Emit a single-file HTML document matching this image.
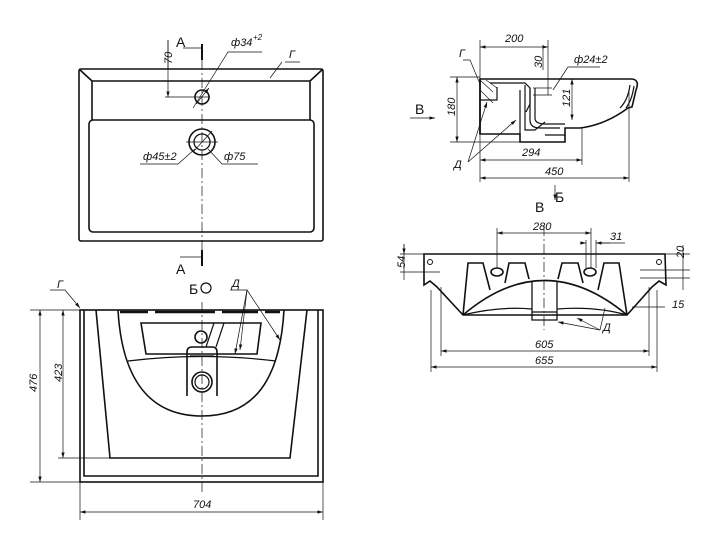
<!DOCTYPE html>
<html><head><meta charset="utf-8"><style>
html,body{margin:0;padding:0;background:#fff;width:720px;height:543px;overflow:hidden}
svg{display:block}
text{font-family:"Liberation Sans",sans-serif;font-style:italic;font-size:11px;fill:#111}
.u{font-style:normal;font-size:14px}
</style></head><body>
<svg width="720" height="543" viewBox="0 0 720 543" xmlns="http://www.w3.org/2000/svg">
<defs>
<marker id="a" viewBox="0 0 10 6" refX="10" refY="3" markerWidth="8" markerHeight="5" orient="auto-start-reverse"><path d="M0,0L10,3L0,6z" fill="#111"/></marker>
</defs>
<g fill="none" stroke="#111" stroke-width="1.6">
<!-- TOP VIEW -->
<rect x="79" y="69" width="244" height="172" rx="2"/>
<path d="M92,81H310M79,69L92,81M323,69L310,81M92,81V120M310,81V120"/>
<rect x="89" y="120" width="225" height="112" rx="4"/>
<circle cx="202" cy="97" r="7"/>
<circle cx="202" cy="142" r="13"/>
<circle cx="202" cy="142" r="8" stroke-width="1.3"/>
<path d="M202,44V60M202,250V266" stroke-width="2"/>
</g>
<g fill="none" stroke="#111" stroke-width="0.7">
<path d="M202,60V250" stroke-dasharray="10,3,2,3"/>
<path d="M165,97H210M186,142H218M183,48H202M180,257H202" />
<path d="M168,40V97" marker-end="url(#a)"/>
<path d="M168,69V40"/>
<path d="M193,108L228,52H262M195,149L178,164H140M208,149L222,164H258M282,62L270,78M285,62H300" />
<path d="M196,104L209,88" marker-end="url(#a)"/>
<path d="M212,131L194,151"/>
</g>
<text x="176" y="47" class="u">А</text>
<text x="231" y="46">ф34</text><text x="253" y="40" style="font-size:8px">+2</text>
<text x="289" y="58">Г</text>
<text x="160" y="64" transform="rotate(-90 166 58)">70</text>
<text x="143" y="160">ф45±2</text>
<text x="224" y="160">ф75</text>
<text x="176" y="274" class="u">А</text>

<!-- BOTTOM VIEW -->
<g fill="none" stroke="#111" stroke-width="1.6">
<rect x="80" y="310" width="243" height="172"/>
<path d="M84,310V476H318V310"/>
<path d="M96,310L110,458H290L307,310"/>
<path d="M118,310C122,380 150,416 202,416C254,416 280,380 284,310"/>
<path d="M141,323H261L257,354H146Z"/>
<path d="M128,361Q202,352 276,361" stroke-width="1.2"/>
<circle cx="201" cy="337" r="6"/>
<path d="M187,396V352Q187,347 192,347H212Q217,347 217,352V396" />
<circle cx="202" cy="382" r="10"/>
<circle cx="202" cy="382" r="7" stroke-width="1.2"/>
<path d="M214,323L206,347M224,323L216,347M190,356H214" stroke-width="1.2"/>
<path d="M120,312H148M155,312H215M222,312H258M265,312H280" stroke-width="2.4"/>
</g>
<g fill="none" stroke="#111" stroke-width="0.7">
<path d="M202,302V495" stroke-dasharray="10,3,2,3"/>
<path d="M30,310H80M30,482H80M58,458H110M80,482V520M323,482V520"/>
<path d="M40,310V482" marker-start="url(#a)" marker-end="url(#a)"/>
<path d="M63,310V458" marker-start="url(#a)" marker-end="url(#a)"/>
<path d="M80,512H323" marker-start="url(#a)" marker-end="url(#a)"/>
<path d="M50,290H65L80,308" marker-end="url(#a)"/>
<path d="M230,290H247L240,350" marker-end="url(#a)"/>
<path d="M247,290L235,354" marker-end="url(#a)"/>
<path d="M247,290L280,340" marker-end="url(#a)"/>
</g>
<text x="57" y="288">Г</text>
<text x="232" y="287">Д</text>
<text x="189" y="294" class="u">Б</text>
<circle cx="206" cy="288" r="5" fill="none" stroke="#111" stroke-width="1.2"/>
<text x="39" y="398" transform="rotate(-90 35 396)">476</text>
<text x="62" y="390" transform="rotate(-90 58 386)">423</text>
<text x="193" y="508">704</text>

<!-- SIDE VIEW -->
<g fill="none" stroke="#111" stroke-width="1.6">
<path d="M480,79H632Q640,80 636,90L632,107L628,108Q605,125 580,128L565,128V142H520V134H480Z"/>
<path d="M480,79V134"/>
<path d="M490,83H525L530,88V104L526,112M497,87V100H480M525,85V130H535L545,122M520,90V134" stroke-width="1.2"/>
<path d="M530,88V120Q530,128 540,128H560M535,88V118Q535,124 545,124H565M545,135H565" stroke-width="1.2"/>
<path d="M630,85Q628,100 620,108M634,86Q632,100 626,108" stroke-width="1.2"/>
<path d="M480,80L493,92M480,90L493,103M486,80L497,88" stroke-width="0.6"/>
</g>
<g fill="none" stroke="#111" stroke-width="0.7">
<path d="M480,40V182M548,40V95M629,92V182M582,128V165M450,77H480M450,142H520"/>
<path d="M480,47H548" marker-start="url(#a)" marker-end="url(#a)"/>
<path d="M480,160H582" marker-start="url(#a)" marker-end="url(#a)"/>
<path d="M480,178H629" marker-start="url(#a)" marker-end="url(#a)"/>
<path d="M457,77V142" marker-start="url(#a)" marker-end="url(#a)"/>
<path d="M572,79V120" marker-start="url(#a)" marker-end="url(#a)"/>
<path d="M543,45V70M533,88H552M533,95H552M553,90L568,67H600"/>
<path d="M463,60H470L480,84"/>
<path d="M410,118H435" marker-end="url(#a)"/>
<path d="M468,162L487,102" marker-end="url(#a)"/>
<path d="M468,162L516,120" marker-end="url(#a)"/>
<path d="M555,185V200" marker-end="url(#a)"/>
</g>
<text x="505" y="42">200</text>
<text x="574" y="63">ф24±2</text>
<text x="459" y="57">Г</text>
<text x="530" y="68" transform="rotate(-90 536 62)">30</text>
<text x="558" y="107" transform="rotate(-90 564 101)">121</text>
<text x="443" y="116" transform="rotate(-90 449 110)">180</text>
<text x="522" y="156">294</text>
<text x="545" y="175">450</text>
<text x="454" y="168">Д</text>
<text x="415" y="114" class="u">В</text>
<text x="535" y="212" class="u">В</text>
<text x="555" y="202" class="u">Б</text>

<!-- FRONT VIEW -->
<g fill="none" stroke="#111" stroke-width="1.6">
<path d="M424,254H665L666,285L659,281L652,287L627,315H463L437,287L430,281L424,285Z"/>
<path d="M463,315L468,263H483L490,290"/>
<path d="M505,283L509,263H525L529,279"/>
<path d="M558,279L562,263H578L583,283"/>
<path d="M598,290L604,263H619L627,315"/>
<path d="M463,315Q544,246 627,315"/>
<path d="M463,315Q500,306 532,309M557,309Q595,306 627,315" stroke-width="1.2"/>
<path d="M532,281V320H557V281M532,312H557" stroke-width="1.3"/>
<ellipse cx="497" cy="272" rx="6" ry="4"/>
<ellipse cx="590" cy="272" rx="6" ry="4"/>
<circle cx="430" cy="262" r="2.5" stroke-width="1"/>
<circle cx="659" cy="262" r="2.5" stroke-width="1"/>
</g>
<g fill="none" stroke="#111" stroke-width="0.7">
<path d="M544,226V330" stroke-dasharray="10,3,2,3"/>
<path d="M497,228V268M591,228V268M586,240V268M596,240V268M400,254H424M400,272H440M640,270H690M665,254H690M640,278H690M632,307H665"/>
<path d="M497,233H591" marker-start="url(#a)" marker-end="url(#a)"/>
<path d="M580,243H586" marker-end="url(#a)"/><path d="M610,243H596" marker-end="url(#a)"/><path d="M596,243H625"/>
<path d="M404,244V280" /><path d="M404,244V254" marker-end="url(#a)"/>
<path d="M683,245V290"/>
<path d="M441,287V356M649,287V356M431,290V372M657,290V372"/>
<path d="M441,351H649" marker-start="url(#a)" marker-end="url(#a)"/>
<path d="M431,367H657" marker-start="url(#a)" marker-end="url(#a)"/>
<path d="M600,330L577,318" marker-end="url(#a)"/>
<path d="M600,330L558,322" marker-end="url(#a)"/>
<path d="M600,330L605,308"/>
</g>
<text x="533" y="230">280</text>
<text x="610" y="240">31</text>
<text x="393" y="268" transform="rotate(-90 399 262)">54</text>
<text x="672" y="258" transform="rotate(-90 678 252)">20</text>
<text x="672" y="308">15</text>
<text x="603" y="331">Д</text>
<text x="535" y="348">605</text>
<text x="535" y="364">655</text>
</svg>
</body></html>
